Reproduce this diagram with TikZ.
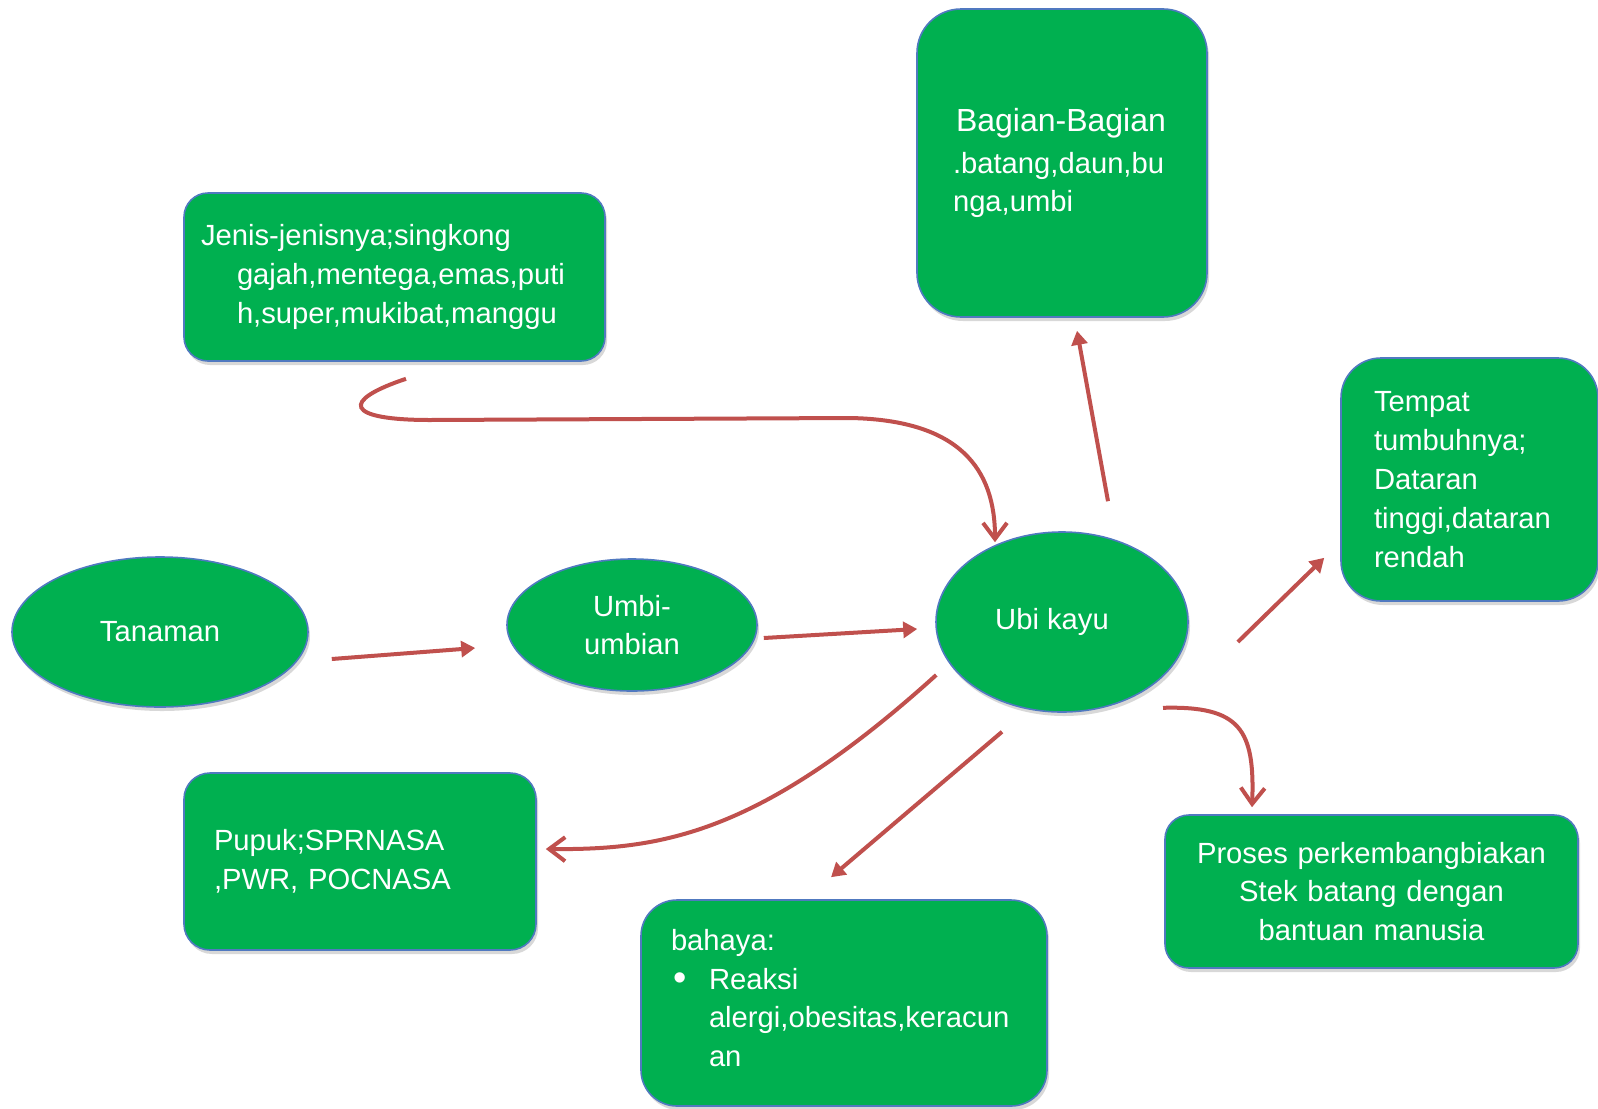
\documentclass[tikz,border=0pt]{standalone}
\usepackage{fontspec}
\setmainfont{Liberation Sans}
\usetikzlibrary{arrows.meta,shapes.geometric,shadows,calc}
\definecolor{leafgreen}{HTML}{00B050}
\definecolor{edgeblue}{HTML}{5079C0}
\definecolor{arrowred}{HTML}{C0504D}
\begin{document}
\begin{tikzpicture}[x=0.5pt,y=-0.5pt,
  every node/.style={font=\fontsize{14.6}{19.4}\selectfont, text=white},
  bubble/.style={ellipse, draw=edgeblue, line width=0.8pt, fill=leafgreen,
    inner sep=0pt, align=center,
    drop shadow={shadow xshift=1pt, shadow yshift=-2pt, opacity=0.3}},
  card/.style={rectangle, rounded corners=#1, draw=edgeblue, line width=0.8pt,
    fill=leafgreen, inner ysep=0pt, align=left,
    drop shadow={shadow xshift=1pt, shadow yshift=-2pt, opacity=0.3}},
  card/.default=13pt,
  link/.style={draw=arrowred, line width=2pt, -{Triangle[length=7pt,width=8pt]}},
  bendlink/.style={draw=arrowred, line width=2pt, -{Straight Barb[length=8pt,width=12pt]}}]
  \fill[white] (0,0) rectangle (1598,1108);
  \useasboundingbox (0,0) rectangle (1598,1108);
  % ellipses
  \node[bubble, minimum width=148pt, minimum height=75pt] (tanaman) at (160,632) {Tanaman};
  \node[bubble, minimum width=125pt, minimum height=66pt] (umbi) at (632,625) {Umbi-\\umbian};
  \node[bubble, minimum width=126pt, minimum height=90pt] (ubi) at (1062,622) {Ubi kayu\hspace*{10pt}};
  % boxes
  \node[card=12pt, minimum width=210.5pt, minimum height=84pt, inner xsep=8.5pt,
    text width=193.5pt] (jenis) at (394.5,277)
    {Jenis-jenisnya;singkong\\\hspace*{18pt}gajah,mentega,emas,puti\\\hspace*{18pt}h,super,mukibat,manggu};
  \node[card=22pt, minimum width=145pt, minimum height=154pt, inner xsep=18pt,
    text width=109pt] (bagian) at (1062,163)
    {\hspace*{1.5pt}{\fontsize{16}{20}\selectfont Bagian-Bagian}\\[1.5pt].batang,daun,bu\\nga,umbi};
  \node[card=20pt, minimum width=128.5pt, minimum height=121.5pt, inner xsep=16.5pt,
    text width=95.5pt] (tempat) at (1469.5,479.5)
    {Tempat\\tumbuhnya;\\Dataran\\tinggi,dataran\\rendah};
  \node[card=13pt, minimum width=176pt, minimum height=88.5pt, inner xsep=15pt,
    text width=146pt] (pupuk) at (360,861.5) {Pupuk;SPRNASA\\,PWR, POCNASA};
  \node[card=18pt, minimum width=203pt, minimum height=103pt, inner xsep=15pt,
    text width=173pt] (bahaya) at (844,1003)
    {bahaya:\\\hspace*{1pt}\makebox[18pt][l]{\raisebox{-0.8pt}{\fontsize{19}{19.4}\selectfont\textbullet}}Reaksi\\\hspace*{19pt}alergi,obesitas,keracun\\\hspace*{19pt}an\\[-14.4pt]\mbox{}};
  \node[card=12pt, minimum width=206.5pt, minimum height=76.5pt, inner xsep=13pt,
    text width=180.5pt, align=center] (proses) at (1371.5,891.5)
    {Proses perkembangbiakan\\Stek batang dengan\\bantuan manusia};
  % arrows
  \draw[link] ($(tanaman.east)+(23,27)$) -- ($(umbi.west)+(-31,23)$);
  \draw[link] ($(umbi.east)+(6,13)$) -- ($(ubi.west)+(-18,7)$);
  \draw[link] ($(ubi.north)+(46,-30)$) -- ($(bagian.south)+(15,13)$);
  \draw[link] ($(ubi.east)+(49,20)$) -- ($(tempat.south west)+(-16,-44)$);
  \draw[link] ($(ubi.south)+(-60,19)$) -- ($(bahaya.north)+(-13,-22)$);
  \draw[bendlink] ($(ubi.south)+(101,-5)$) .. controls +(77,-2) and +(3,-78) .. ($(proses.north)+(-119.5,-7)$);
  \draw[bendlink] ($(ubi.west)+(1,53)$) .. controls +(-177,160) and +(115,1) .. ($(pupuk.east)+(9,-12.5)$);
  \draw[bendlink] ($(jenis.south)+(11.5,17)$) .. controls +(-66,22) and +(-85,0) .. (430,420)
    -- (850,418) .. controls +(110,2) and +(0,-73) .. ($(ubi.north)+(-67,11)$);
\end{tikzpicture}
\end{document}
